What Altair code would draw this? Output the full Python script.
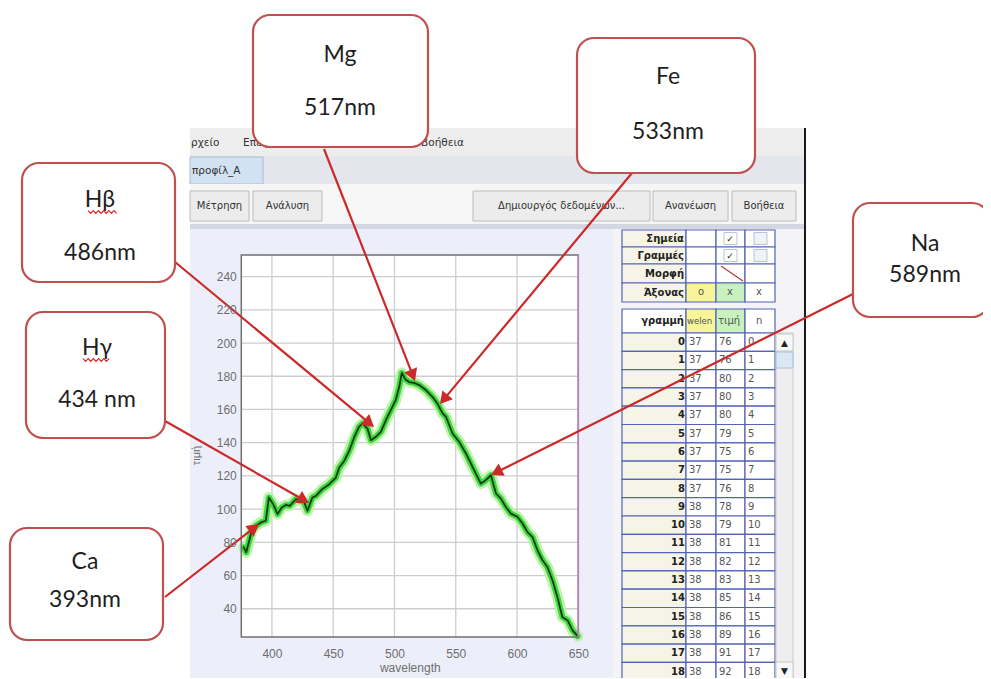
import math
import altair as alt
import pandas as pd

# ---------------- data ----------------
wavelength = [377, 379, 381.5, 383.5, 387, 391, 395, 397.5, 401, 404.6, 408, 411.4, 414.5, 419.6,
              423.6, 426.4, 429, 433, 436, 441, 446.8, 452.2, 454.9, 459, 463, 467, 471, 474,
              478, 480.8, 484.8, 488.9, 493, 497, 501, 503.9, 506, 509, 512, 516, 520.2, 525.6,
              531, 535, 539.3, 542, 547.4, 552.8, 558.3, 562.4, 566.4, 570.5, 574.5, 578.7,
              582.8, 586.8, 590.9, 595, 600.4, 604.5, 608.5, 612.6, 616.7, 620.8, 624.8, 629,
              633, 637, 641.3, 645.3, 649.5]
intensity = [77, 74, 81, 87, 90, 92, 93, 107, 103, 97, 101, 102.5, 102, 106,
             105, 104, 99, 107, 108, 112, 115, 119, 125, 129, 135, 143, 149.5, 151.6,
             148.5, 141.5, 143.5, 146.5, 153.6, 159.6, 165.6, 173.7, 182, 178, 176.5, 176, 174.7, 171.7,
             167.6, 163.6, 157.6, 155.6, 145.5, 140.5, 133.5, 127.4, 121.4, 115.4, 117.4, 120.4,
             109.4, 106.3, 101.3, 97.3, 95.3, 91.3, 86.2, 83.2, 75.2, 69.2, 65.1, 57,
             47, 35, 33, 27, 23.5]
x_tick_values = [400, 450, 500, 550, 600, 650]
y_tick_values = [40, 60, 80, 100, 120, 140, 160, 180, 200, 220, 240]

element_names = ["Mg", "Fe", "Hβ", "Na", "Hγ", "Ca"]
element_nm = ["517nm", "533nm", "486nm", "589nm", "434 nm", "393nm"]

table_index = [str(i) for i in range(19)]
table_wavel = ["37"] * 9 + ["38"] * 10
table_value = ["76", "76", "80", "80", "80", "79", "75", "75", "76", "78",
               "79", "81", "82", "83", "85", "86", "89", "91", "92"]
table_settings = ["Σημεία", "Γραμμές", "Μορφή", "Άξονας"]
table_header = ["γραμμή", "welen", "τιμή", "n"]
menu_items = ["ρχείο", "Επεξεργασία", "Βοήθεια"]
tab_label = "προφίλ_A"
button_labels = ["Μέτρηση", "Ανάλυση", "Δημιουργός δεδομένων...", "Ανανέωση", "Βοήθεια"]

# ---------------- layout (pixel positions in the reference) ----------------
PL, PT, PW, PH = 241.3, 255.0, 337.0, 382.0
XD = [375.0, 650.0]
YD = [23.0, 253.0]


def X(px):
    return XD[0] + (px - PL) / PW * (XD[1] - XD[0])


def Y(py):
    return YD[1] - (py - PT) / PH * (YD[1] - YD[0])


xs = alt.Scale(domain=XD, nice=False, zero=False)
ys = alt.Scale(domain=YD, nice=False, zero=False)
GREY = "#6e6e6e"
ax_x = alt.Axis(values=x_tick_values, grid=False, domain=False, ticks=False, labelPadding=11,
                labelFontSize=12, labelColor=GREY, labelFont="Liberation Sans", labelFlush=False,
                labelOverlap=False, title="wavelength", titleFont="Liberation Sans", titleFontSize=12,
                titleFontWeight="normal", titleColor=GREY, titlePadding=3, zindex=1)
ax_y = alt.Axis(values=y_tick_values, grid=False, domain=False, ticks=False, labelPadding=5,
                labelFontSize=12, labelColor=GREY, labelFont="Liberation Sans", labelOverlap=False,
                title="τιμή", titleFont="Liberation Sans", titleFontSize=11, titleFontWeight="normal",
                titleColor=GREY, titleX=-40, titleY=200, zindex=1)


def ex(f="x"):
    return alt.X(f"{f}:Q", scale=xs, axis=ax_x)


def ey(f="y"):
    return alt.Y(f"{f}:Q", scale=ys, axis=ax_y)


def rects(rows, **kw):
    df = pd.DataFrame([{"x": X(a), "x2": X(c), "y": Y(b), "y2": Y(d), "fill": f, "stroke": s, "sw": w}
                       for a, b, c, d, f, s, w in rows])
    return alt.Chart(df).mark_rect(**kw).encode(
        x=ex(), x2="x2:Q", y=ey(), y2="y2:Q",
        fill=alt.Fill("fill:N", scale=None),
        stroke=alt.Stroke("stroke:N", scale=None),
        strokeWidth=alt.StrokeWidth("sw:Q", scale=None))


def texts(items, **kw):
    df = pd.DataFrame([{"x": X(a), "y": Y(b), "t": t} for t, a, b in items])
    return alt.Chart(df).mark_text(baseline="middle", **kw).encode(x=ex(), y=ey(), text="t:N")


def segs(rows, **kw):
    df = pd.DataFrame([{"x": X(a), "y": Y(b), "x2": X(c), "y2": Y(d)} for a, b, c, d in rows])
    return alt.Chart(df).mark_rule(**kw).encode(x=ex(), y=ey(), x2="x2:Q", y2="y2:Q")


layers = []

# ---- software window background ----
ui = [
    (190, 128, 805, 679, "#f0f0f0", "#f0f0f0", 0),
    (190, 128, 805, 156, "#ededed", "#ededed", 0),
    (190, 156, 805, 184, "#e3e6ed", "#e3e6ed", 0),
    (190, 157, 263, 184, "#d3e2f3", "#a9bcd4", 1),
    (190, 184, 805, 224, "#f6f6f6", "#f6f6f6", 0),
    (190, 224, 805, 229, "#d3d7e1", "#d3d7e1", 0),
    (190, 229, 613, 679, "#eceef9", "#eceef9", 0),
    (613, 229, 803, 679, "#f4f4f6", "#f4f4f6", 0),
]
btn_boxes = [(190, 191, 249, 221), (253, 191, 322, 221), (473, 191, 650, 221),
             (653, 191, 728, 221), (732, 191, 796, 221)]
ui += [(a, b, c, d, "#ececec", "#bcbcbc", 1) for a, b, c, d in btn_boxes]

# table cells
col_edges = [622, 686, 716, 745, 775]
top_edges = [230, 247, 264, 283, 302]
CREAM, YEL, GRN, BLUE = "#f6f4e6", "#f7f49a", "#c9f1c0", "#5363b5"
for r in range(4):
    for c in range(4):
        f = CREAM if c == 0 else "#ffffff"
        if r == 3 and c == 1:
            f = YEL
        if r == 3 and c == 2:
            f = GRN
        ui.append((col_edges[c], top_edges[r], (col_edges + [793])[c + 1], top_edges[r + 1], f, BLUE, 1.2))
hdr_fill = ["#ffffff", YEL, GRN, "#ffffff"]
for c in range(4):
    ui.append((col_edges[c], 309, (col_edges + [793])[c + 1], 333, hdr_fill[c], BLUE, 1.2))
ROW_H, ROW0 = 18.3, 333
for k in range(len(table_index)):
    for c in range(4):
        ui.append((col_edges[c], ROW0 + ROW_H * k, (col_edges + [776])[c + 1], ROW0 + ROW_H * (k + 1),
                   CREAM if c == 0 else "#ffffff", BLUE, 1.2))
ui += [
    (776, 333, 793, 679, "#eeeeee", "#cccccc", 1),
    (776, 334, 793, 351, "#f8f8f8", "#c8c8c8", 1),
    (776, 352, 793, 368, "#dde7f3", "#a9bcd6", 1),
    (776, 662, 793, 679, "#f8f8f8", "#c8c8c8", 1),
]
# check boxes
for r in range(2):
    cy = (top_edges[r] + top_edges[r + 1]) / 2
    ui.append((724, cy - 6, 737, cy + 6, "#ffffff", "#b9c4d6", 1))
    ui.append((754, cy - 6, 767, cy + 6, "#eef3fb", "#b9c4d6", 1))
layers.append(rects(ui))

# UI texts
TXT = "#333333"
layers.append(texts([(menu_items[0], 191, 143), (menu_items[1], 243, 143), (menu_items[2], 421, 143),
                     (tab_label, 192, 171)],
                    align="left", font="DejaVu Sans", fontSize=10.5, color=TXT))
layers.append(texts([(t, (a + c) / 2, 206) for t, (a, b, c, d) in zip(button_labels, btn_boxes)],
                    align="center", font="DejaVu Sans", fontSize=10, color=TXT))
tb = [(s, 684, (top_edges[r] + top_edges[r + 1]) / 2) for r, s in enumerate(table_settings)]
tb += [(table_header[0], 684, 321)]
tb += [(table_index[k], 685, ROW0 + ROW_H * (k + 0.5)) for k in range(len(table_index))]
layers.append(texts(tb, align="right", font="DejaVu Sans", fontSize=10, fontWeight="bold", color="#222222"))
layers.append(texts([(table_header[1], 687, 321)], align="left", font="DejaVu Sans", fontSize=8.5,
                    color="#555555"))
tv = [(table_header[2], 718, 321), (table_header[3], 756, 321)]
tv += [("o", 698, 292), ("x", 727, 292), ("x", 756, 292)]
for k in range(len(table_index)):
    cy = ROW0 + ROW_H * (k + 0.5)
    tv += [(table_wavel[k], 689, cy), (table_value[k], 719, cy), (table_index[k], 748, cy)]
layers.append(texts(tv, align="left", font="DejaVu Sans", fontSize=10, color="#555555"))
layers.append(texts([("✓", 730, 238.5), ("✓", 730, 255.5), ("▲", 784.5, 342.5), ("▼", 784.5, 670.5)],
                    align="center", font="DejaVu Sans", fontSize=9, color="#222222"))
layers.append(segs([(721, 266, 743, 281)], color="#c03030", strokeWidth=1.2))
layers.append(segs([(805, 128, 805, 679)], color="#1a1a1a", strokeWidth=2))

# ---- plot area ----
layers.append(rects([(PL, PT, PL + PW, PT + PH, "#ffffff", "#ffffff", 0)]))
grid_x = pd.DataFrame({"v": x_tick_values[:-1]})
grid_y = pd.DataFrame({"v": y_tick_values})
layers.append(alt.Chart(grid_x).mark_rule(color="#cdcdcd", strokeWidth=1.3).encode(
    x=alt.X("v:Q", scale=xs, axis=ax_x)))
layers.append(alt.Chart(grid_y).mark_rule(color="#cdcdcd", strokeWidth=1.3).encode(
    y=alt.Y("v:Q", scale=ys, axis=ax_y)))

curve = pd.DataFrame({"x": wavelength, "y": intensity, "i": range(len(wavelength))})
for col, w, op in [("#b8f3a4", 11, 0.9), ("#3fd63f", 6, 1.0), ("#143a14", 1.8, 1.0)]:
    layers.append(alt.Chart(curve).mark_line(color=col, strokeWidth=w, opacity=op,
                                             strokeJoin="round", strokeCap="round").encode(
        x=ex(), y=ey(), order="i:Q"))

layers.append(rects([(PL, PT, PL + PW, PT + PH, "transparent", "#707070", 1.5)]))
layers.append(segs([(PL + PW, PT, PL + PW, PT + PH)], color="#c27ac4", strokeWidth=1.5))

# ---- callouts ----
RED = "#cc2a2a"
BOX_RED = "#c0504d"
arrow_start = [(324, 149), (632, 173), (175, 262), (853, 294), (165, 421), (165, 597)]
arrow_tip = [(415, 381), (440, 404), (374, 427), (491, 475), (309, 503), (259, 524)]
HEAD = 190
h = math.sqrt(3) * (math.sqrt(HEAD) / 2) / 2
shafts, heads = [], []
for (sx, sy), (tx, ty) in zip(arrow_start, arrow_tip):
    dx, dy = tx - sx, ty - sy
    L = math.hypot(dx, dy)
    ux, uy = dx / L, dy / L
    cx, cy = tx - ux * h, ty - uy * h
    shafts.append((sx, sy, cx, cy))
    ang = math.degrees(math.atan2(dx, -dy)) % 360
    heads.append({"x": X(cx), "y": Y(cy), "a": ang})
layers.append(segs(shafts, color=RED, strokeWidth=2.2))
layers.append(alt.Chart(pd.DataFrame(heads)).mark_point(
    shape="triangle-up", filled=True, size=HEAD, color=RED, opacity=1, strokeWidth=0).encode(
    x=ex(), y=ey(), angle=alt.Angle("a:Q", scale=None)))

boxes = [(253, 15, 428, 147), (577, 38, 755, 173), (22, 163, 175, 282),
         (853, 203, 989, 317), (26, 312, 165, 438), (10, 528, 163, 640)]
layers.append(rects([(a, b, c, d, "#ffffff", BOX_RED, 2.2) for a, b, c, d in boxes], cornerRadius=17))

name_pos = [(340, 55), (668, 77), (100, 200), (925, 244), (97, 348), (85, 562)]
nm_pos = [(340, 108), (668, 132), (100, 253), (925, 275), (97, 400), (85, 600)]
lab = [(n, p[0], p[1]) for n, p in zip(element_names, name_pos)]
lab += [(n, p[0], p[1]) for n, p in zip(element_nm, nm_pos)]
layers.append(texts(lab, align="center", font="Lato", fontSize=23, color="#1f1f1f"))

# spell-check squiggles under Hβ and Hγ
sq = []
for sid, (x0, x1, yy) in enumerate([(88, 118, 212), (83, 111, 360)]):
    k, xx = 0, x0
    while xx <= x1:
        sq.append({"x": X(xx), "y": Y(yy + (1.4 if k % 2 else -1.4)), "g": sid, "i": k})
        xx += 2.6
        k += 1
layers.append(alt.Chart(pd.DataFrame(sq)).mark_line(color="#e02020", strokeWidth=1.1).encode(
    x=ex(), y=ey(), detail="g:N", order="i:Q"))

chart = alt.layer(*layers).properties(
    width=PW, height=PH,
    autosize=alt.AutoSizeParams(type="none"),
    padding={"left": PL - 8, "top": PT - 8, "right": 983 - (PL + PW), "bottom": 41},
    background="white",
).configure_view(stroke=None)

chart.save("out.html", embed_options={"renderer": "svg", "actions": False})
